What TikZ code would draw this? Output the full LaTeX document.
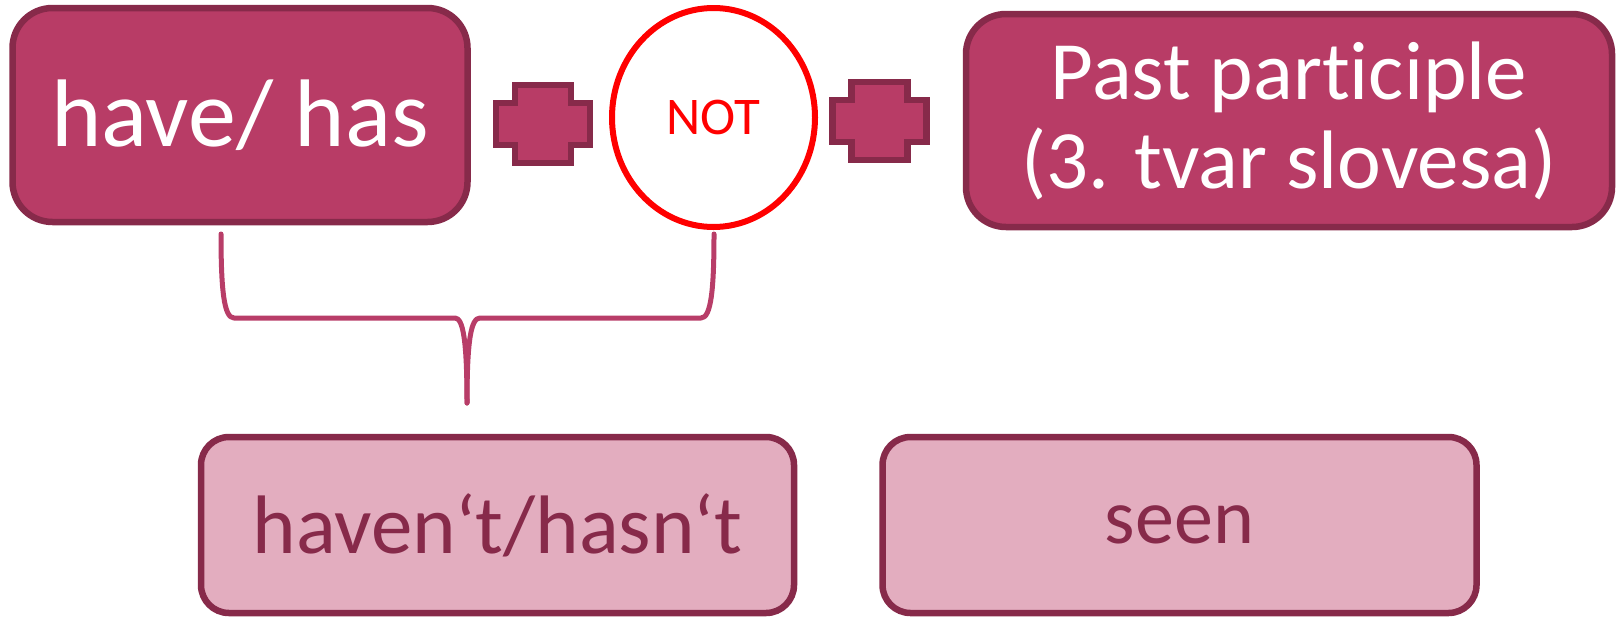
\documentclass[tikz,border=0pt]{standalone}
\usepackage{fontspec}
\setmainfont[Ligatures=NoCommon]{Carlito}
\usetikzlibrary{shapes.geometric}
\definecolor{topfill}{HTML}{B83C66}
\definecolor{edge}{HTML}{872A4A}
\definecolor{lowfill}{HTML}{E3ADBF}
\definecolor{bracec}{HTML}{B83D68}
\tikzset{
  topbox/.style={draw=edge, fill=topfill, line width=6.5pt, rounded corners=40pt, inner sep=0pt, text=white, align=center},
  lowbox/.style={draw=edge, fill=lowfill, line width=6.5pt, rounded corners=28pt, inner sep=0pt, text=edge, align=center},
  plusshape/.style={draw=edge, fill=topfill, line width=6.5pt},
  notcirc/.style={draw=red, fill=white, line width=6pt, ellipse, inner sep=0pt, text=red},
  bracel/.style={draw=bracec, line width=5pt, line cap=round, line join=round}
}
\begin{document}
\begin{tikzpicture}[x=1pt,y=-1pt]
\useasboundingbox (0,0) rectangle (1616,619);
% top row
\node[topbox, minimum width=455pt, minimum height=214pt, font=\fontsize{96}{100}\selectfont] (b1) at (240,115) {have/ has};
\node[notcirc, minimum width=203pt, minimum height=219pt, font=\fontsize{53}{55}\selectfont] (nt) at (713.5,117.5) {NOT};
\node[topbox, minimum width=646pt, minimum height=213pt, font=\fontsize{83}{89}\selectfont] (b3) at (1289,120.5) {Past participle\\(3. tvar slovesa)};
% plus signs
\coordinate (p1) at (543,124);
\coordinate (p2) at (879.5,121);
\draw[plusshape] ([shift={(-28,-39)}]p1) -- ([shift={(28,-39)}]p1) -- ([shift={(28,-21)}]p1) -- ([shift={(47,-21)}]p1) -- ([shift={(47,21)}]p1) -- ([shift={(28,21)}]p1) -- ([shift={(28,39)}]p1) -- ([shift={(-28,39)}]p1) -- ([shift={(-28,21)}]p1) -- ([shift={(-47,21)}]p1) -- ([shift={(-47,-21)}]p1) -- ([shift={(-28,-21)}]p1) -- cycle;
\draw[plusshape] ([shift={(-28,-39)}]p2) -- ([shift={(28,-39)}]p2) -- ([shift={(28,-21)}]p2) -- ([shift={(47,-21)}]p2) -- ([shift={(47,21)}]p2) -- ([shift={(28,21)}]p2) -- ([shift={(28,39)}]p2) -- ([shift={(-28,39)}]p2) -- ([shift={(-28,21)}]p2) -- ([shift={(-47,21)}]p2) -- ([shift={(-47,-21)}]p2) -- ([shift={(-28,-21)}]p2) -- cycle;
% bottom row
\node[lowbox, minimum width=593pt, minimum height=176pt, font=\fontsize{83}{89}\selectfont] (c1) at (497.5,525) {haven‘t/hasn‘t};
\node[lowbox, minimum width=594pt, minimum height=176pt, font=\fontsize{78}{84}\selectfont] (c2) at (1179.5,525) {seen};
% brace
\coordinate (bl) at (221,234);
\coordinate (br) at (714,234);
\coordinate (bt) at (467,403);
\draw[bracel] (bl) .. controls (221,290) and (224,318) .. (234,318) -- (455,318) .. controls (463,318) and (467,340) .. (bt);
\draw[bracel] (br) .. controls (714,290) and (711,318) .. (701,318) -- (480,318) .. controls (471,318) and (467,340) .. (bt);
\end{tikzpicture}
\end{document}
